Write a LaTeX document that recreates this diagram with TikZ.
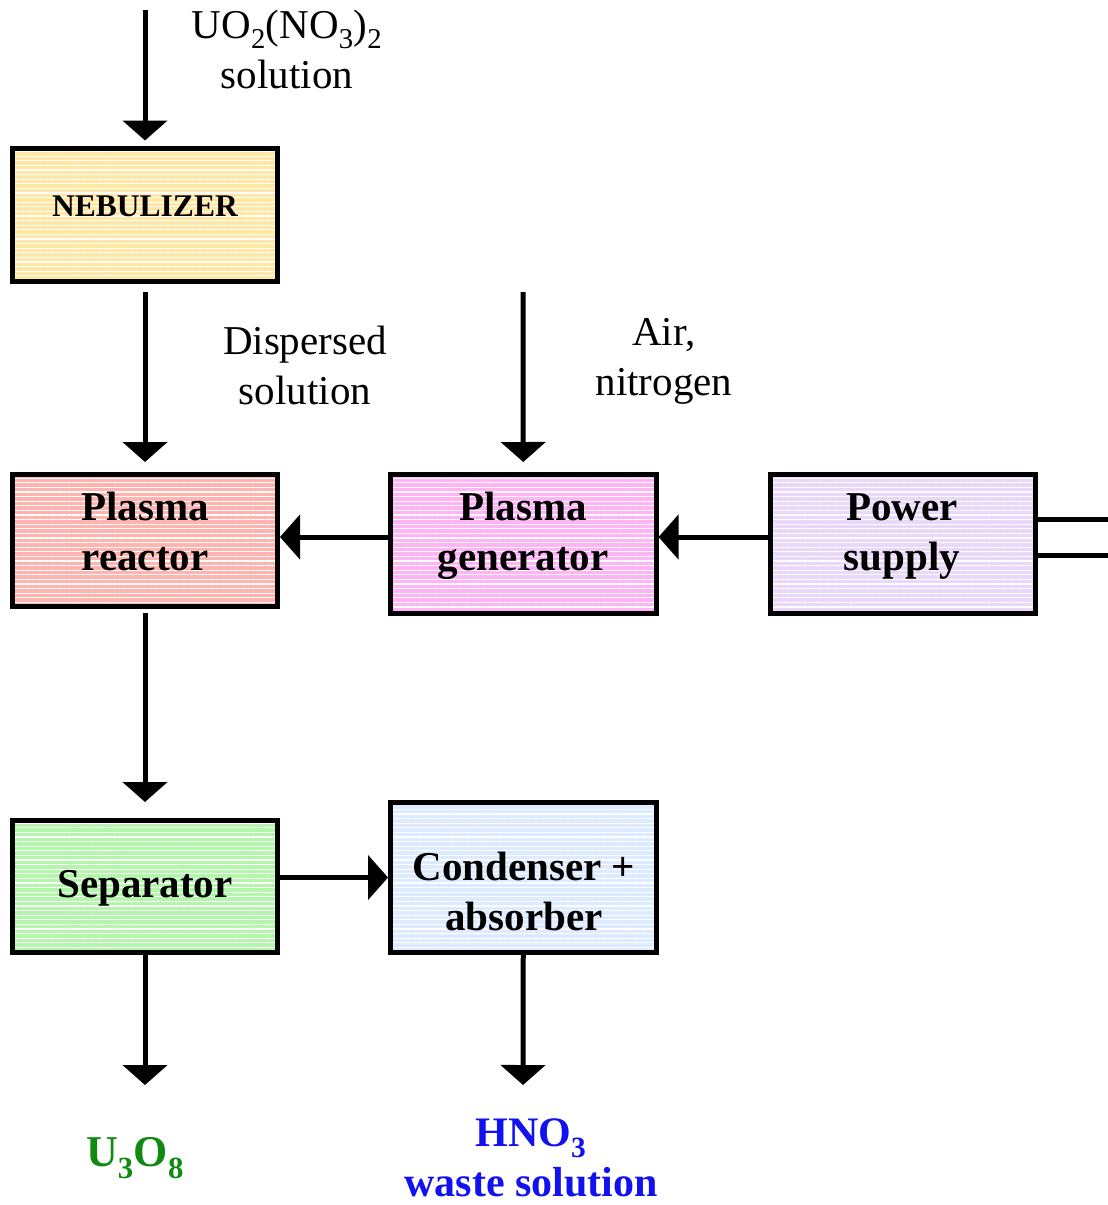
\documentclass[tikz,border=0pt]{standalone}
\usepackage{fontspec}
\setmainfont{Liberation Serif}
\usetikzlibrary{arrows.meta,patterns.meta}
\definecolor{nebfill}{HTML}{FFE7A6}
\definecolor{reacfill}{HTML}{FFB4B0}
\definecolor{genfill}{HTML}{FFB4F6}
\definecolor{powfill}{HTML}{EAD8FA}
\definecolor{sepfill}{HTML}{B4F6AC}
\definecolor{condfill}{HTML}{DCEBFF}
\definecolor{outgreen}{HTML}{118A11}
\definecolor{outblue}{HTML}{1212EE}
\tikzset{
  stripes/.style={preaction={fill=#1}, preaction={pattern={Lines[angle=0,distance=4.6pt,line width=1.3pt]}, pattern color=white}},
  blk/.style={draw=black, line width=5pt, inner sep=0pt},
  blktext/.style={align=center, inner sep=0pt, font=\fontsize{41}{50}\selectfont\bfseries},
  lbl/.style={align=center, inner sep=0pt, font=\fontsize{41}{50}\selectfont},
  outlbl/.style={align=center, inner sep=0pt, font=\fontsize{42}{50}\selectfont\bfseries},
  arr/.style={line width=5pt, -{Triangle[width=44pt,length=20pt]}},
  wire/.style={line width=5pt},
}
\begin{document}
\begin{tikzpicture}[x=1pt,y=-1pt]
\useasboundingbox (0,0) rectangle (1108,1205);
% boxes
\node[blk, stripes=nebfill, minimum width=265pt, minimum height=133pt] (neb) at (145,214.5) {};
\node[blk, stripes=reacfill, minimum width=265pt, minimum height=131.5pt] (reac) at (145,540.25) {};
\node[blk, stripes=genfill, minimum width=265.5pt, minimum height=139pt] (gen) at (523.25,544) {};
\node[blk, stripes=powfill, minimum width=265pt, minimum height=139pt] (pow) at (902.5,544) {};
\node[blk, stripes=sepfill, minimum width=265pt, minimum height=132pt] (sep) at (145,886.5) {};
\node[blk, stripes=condfill, minimum width=265.5pt, minimum height=150pt] (cond) at (523.25,877.5) {};
% box texts
\node[blktext, font=\fontsize{31.5}{36}\selectfont\bfseries] (nebT) at (145,206) {NEBULIZER};
\node[blktext] (reacT) at (145,531.5) {Plasma\\reactor};
\node[blktext] (genT) at (523,536) {Plasma\\generator};
\node[blktext] (powT) at (902,536) {Power\\supply};
\node[blktext] (sepT) at (145,888) {Separator};
\node[blktext] (condT) at (524,891) {Condenser +\\absorber};
% text labels
\node[lbl] (feed) at (287,49) {UO\textsubscript{2}(NO\textsubscript{3})\textsubscript{2}\\solution};
\node[lbl] (disp) at (305,365) {Dispersed\\solution};
\node[lbl] (air) at (664,361) {Air,\\nitrogen};
\node[outlbl, text=outgreen, font=\fontsize{44}{50}\selectfont\bfseries] (u3o8) at (135,1158) {U\textsubscript{3}O\textsubscript{8}};
\node[outlbl, text=outblue] (hno3) at (531,1158) {HNO\textsubscript{3}\\waste solution};
% coordinates
\coordinate (feedin) at (145,10);
\coordinate (airin) at (523,292);
\coordinate (sepout) at (145,1085);
\coordinate (condout) at (523,1085);
\coordinate (hline) at (0,537);
\coordinate (pw1) at (1108,519);
\coordinate (pw2) at (1108,555);
% connectors
\draw[arr, shorten >=5pt] (feedin) -- (neb.north);
\draw[arr, shorten <=8.5pt, shorten >=10pt] (neb.south) -- (reac.north);
\draw[arr, shorten >=10pt] (airin) -- (gen.north);
\draw[arr] (gen.west |- hline) -- (reac.east |- hline);
\draw[arr] (pow.west |- hline) -- (gen.east |- hline);
\draw[arr, shorten <=4pt, shorten >=16pt] (reac.south) -- (sep.north);
\draw[arr] (sep.east |- cond.west) -- (cond.west);
\draw[arr] (sep.south) -- (sepout);
\draw[arr] (cond.south) -- (condout);
\draw[wire] (pw1 -| pow.east) -- (pw1);
\draw[wire] (pw2 -| pow.east) -- (pw2);
\end{tikzpicture}
\end{document}
